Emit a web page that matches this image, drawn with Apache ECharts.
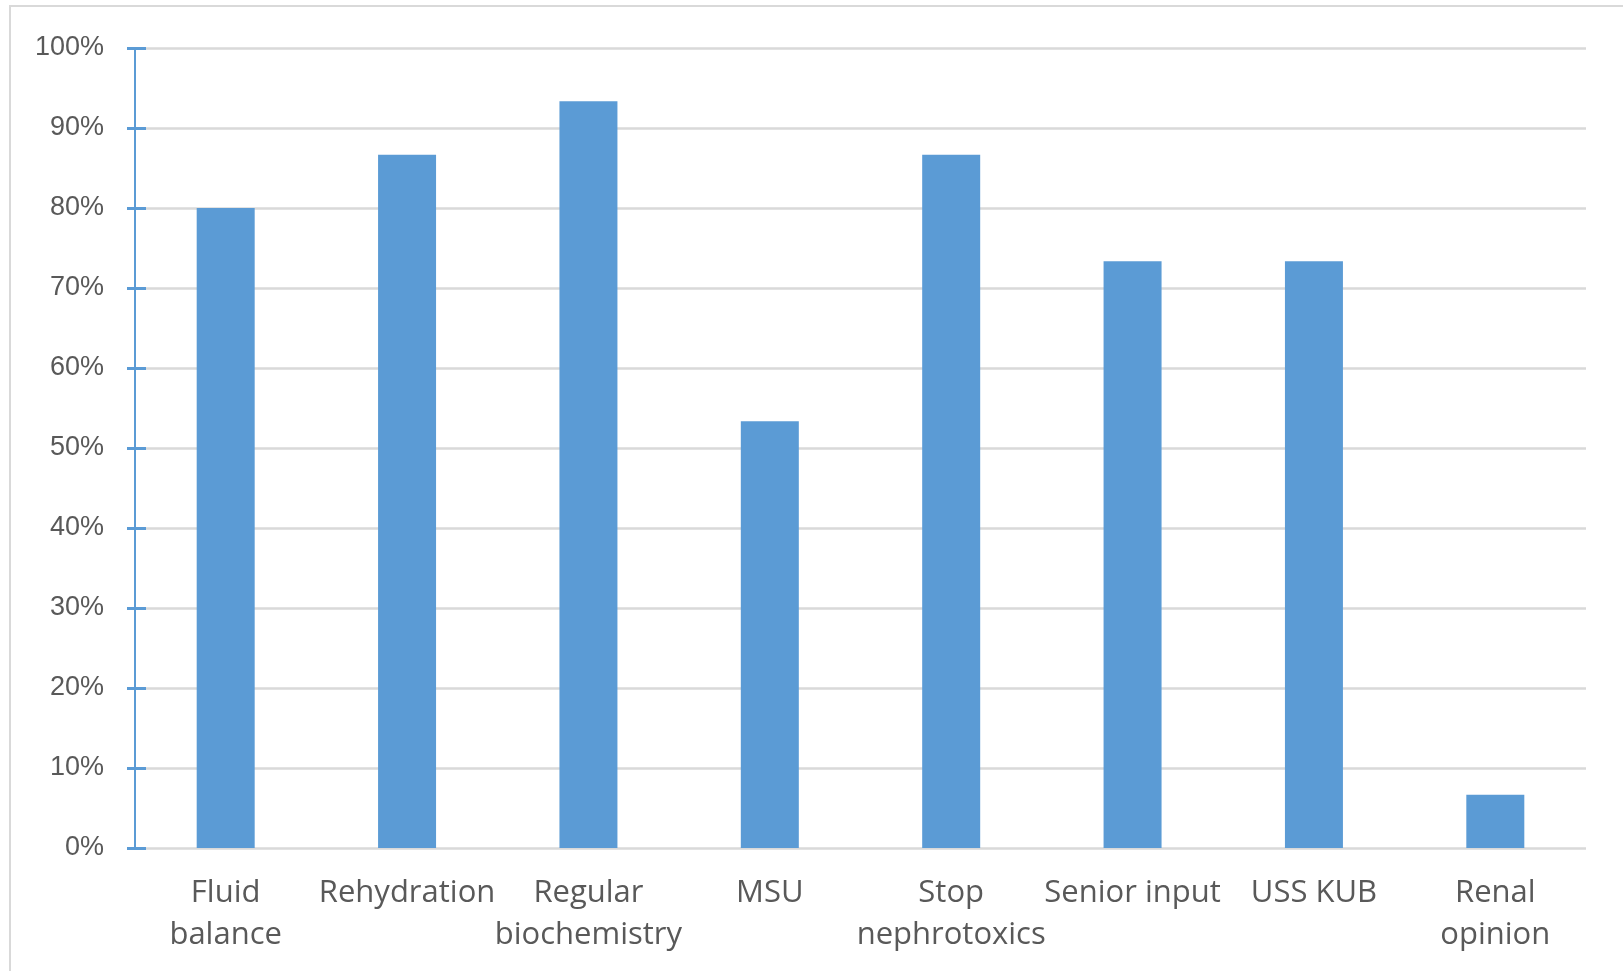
<!DOCTYPE html>
<html>
<head>
<meta charset="utf-8">
<style>
  html, body { margin: 0; padding: 0; background: #ffffff; }
  #chart { width: 1623px; height: 971px; }
</style>
<script src="https://cdn.jsdelivr.net/npm/echarts@6/dist/echarts.min.js"></script>
</head>
<body>
<div id="chart"></div>
<script>
// Care steps audited (labels wrap onto two lines where needed)
const categories = [
  'Fluid\nbalance',
  'Rehydration',
  'Regular\nbiochemistry',
  'MSU',
  'Stop\nnephrotoxics',
  'Senior input',
  'USS KUB',
  'Renal\nopinion'
];

// Share of cases where each step was done (fraction of 1)
const compliance = [0.80, 0.8667, 0.9333, 0.5333, 0.8667, 0.7333, 0.7333, 0.0667];

// Value axis range and step
const yMin = 0;
const yMax = 1;
const yStep = 0.1;

const blue = '#5B9BD5';
const gridGray = '#D9D9D9';
const textGray = '#595959';

const chart = echarts.init(document.getElementById('chart'), null, { renderer: 'canvas' });

const pct = v => Math.round(v * 100) + '%';

chart.setOption({
  backgroundColor: '#ffffff',
  animation: false,
  graphic: [{
    type: 'rect',
    shape: { x: 10, y: 6, width: 1700, height: 1100 },
    style: { fill: 'none', stroke: gridGray, lineWidth: 2 },
    silent: true,
    z: -1
  }],
  grid: { left: 135, right: 37, top: 48, bottom: 123 },
  xAxis: {
    type: 'category',
    data: categories,
    axisLine: { show: false },
    axisTick: { show: false },
    axisLabel: {
      color: textGray,
      fontFamily: 'Open Sans',
      fontSize: 31,
      lineHeight: 42,
      margin: 24,
      verticalAlign: 'top',
      interval: 0
    }
  },
  yAxis: [{
    type: 'value',
    min: yMin,
    max: yMax,
    interval: yStep,
    axisLine: { show: true, lineStyle: { color: blue, width: 2 } },
    axisTick: { show: true, length: 8, lineStyle: { color: blue, width: 3 } },
    splitLine: { show: true, lineStyle: { color: gridGray, width: 2.5 } },
    axisLabel: {
      formatter: pct,
      color: textGray,
      fontFamily: 'Liberation Sans',
      fontSize: 27,
      margin: 31
    }
  }, {
    // Inner half of the cross ticks on the value axis
    type: 'value',
    position: 'left',
    min: yMin,
    max: yMax,
    interval: yStep,
    axisLine: { show: false },
    axisTick: { show: true, inside: true, length: 11, lineStyle: { color: blue, width: 3 } },
    splitLine: { show: false },
    axisLabel: { show: false }
  }],
  series: [{
    type: 'bar',
    data: compliance,
    yAxisIndex: 0,
    barWidth: 58,
    itemStyle: { color: blue },
    z: 3
  }]
});
</script>
</body>
</html>
